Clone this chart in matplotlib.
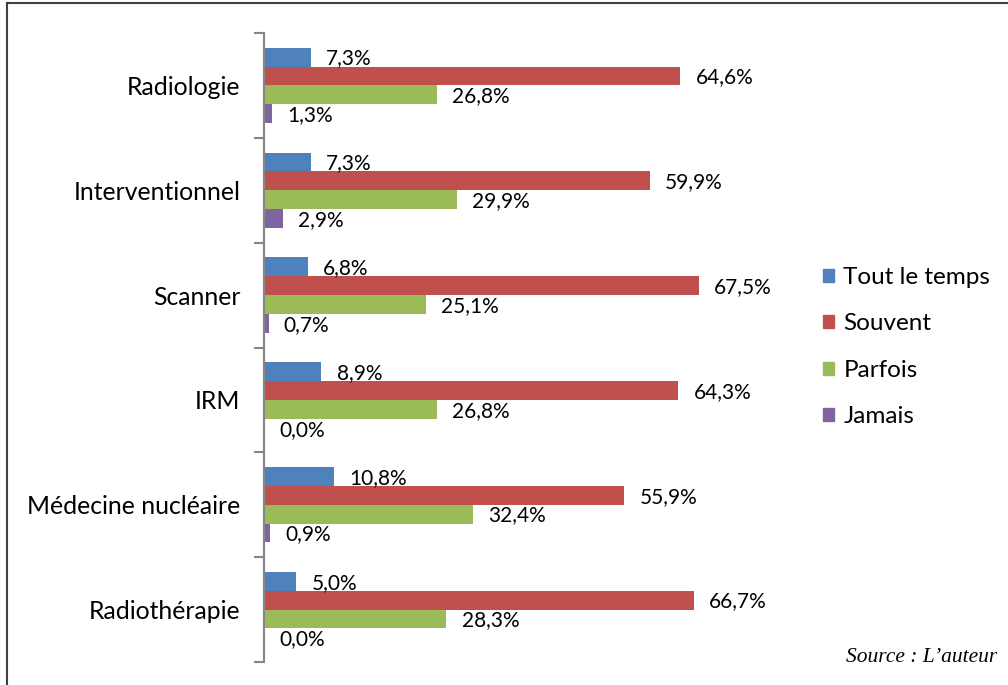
import matplotlib.pyplot as plt
import numpy as np
from matplotlib.lines import Line2D
from matplotlib.patches import Patch

categories = ["Radiologie", "Interventionnel", "Scanner", "IRM", "Médecine nucléaire", "Radiothérapie"]
series_names = ["Tout le temps", "Souvent", "Parfois", "Jamais"]
tout_le_temps = [7.3, 7.3, 6.8, 8.9, 10.8, 5.0]
souvent = [64.6, 59.9, 67.5, 64.3, 55.9, 66.7]
parfois = [26.8, 29.9, 25.1, 26.8, 32.4, 28.3]
jamais = [1.3, 2.9, 0.7, 0.0, 0.9, 0.0]
colors = ["#4F81BD", "#C0504D", "#9BBB59", "#8064A2"]

plt.rcParams["font.family"] = ["Lato", "DejaVu Sans"]

fig = plt.figure(figsize=(10.08, 6.85), dpi=100)
ax = fig.add_axes([264 / 1008, 1 - 662 / 685, (715 - 264) / 1008, (662 - 33) / 685])

y = np.arange(len(categories))
bar_h = 0.18
all_series = [tout_le_temps, souvent, parfois, jamais]
for i, (name, values) in enumerate(zip(series_names, all_series)):
    pos = y + (i - 1.5) * bar_h
    ax.barh(pos, values, height=bar_h, color=colors[i], label=name)
    for p, v in zip(pos, values):
        ax.annotate(f"{v:.1f}%".replace(".", ","), (v, p), xytext=(11, -1),
                    textcoords="offset points", va="center", ha="left", fontsize=15)

ax.set_xlim(0, 70)
ax.set_ylim(len(categories) - 0.5, -0.5)
ax.set_yticks(y)
ax.set_yticklabels(categories, fontsize=17.8)
ax.set_yticks(np.arange(len(categories) + 1) - 0.5, minor=True)
ax.tick_params(axis="y", which="major", length=0, pad=17)
ax.tick_params(axis="y", which="minor", length=7, width=1.5, color="#868686")
ax.set_xticks([])
for side in ["top", "right", "bottom"]:
    ax.spines[side].set_visible(False)
ax.spines["left"].set_color("#868686")
ax.spines["left"].set_linewidth(1.5)

handles = [Patch(color=c, label=n) for c, n in zip(colors, series_names)]
fig.legend(handles=handles, loc="upper left", bbox_to_anchor=(813 / 1008, 1 - 257 / 685),
           frameon=False, fontsize=17.5, handlelength=0.45, handleheight=0.45,
           handletextpad=0.4, labelspacing=1.05, borderaxespad=0)

fig.text(997 / 1008, 1 - 657 / 685, "Source : L\u2019auteur", ha="right", va="center",
         fontsize=15.5, style="italic", family="Liberation Serif")

fig.add_artist(Line2D([7 / 1008, 1], [1 - 3 / 685, 1 - 3 / 685], color="#404040", lw=1.5))
fig.add_artist(Line2D([7 / 1008, 7 / 1008], [0, 1 - 3 / 685], color="#404040", lw=1.5))

fig.savefig("out.png", dpi=100)
